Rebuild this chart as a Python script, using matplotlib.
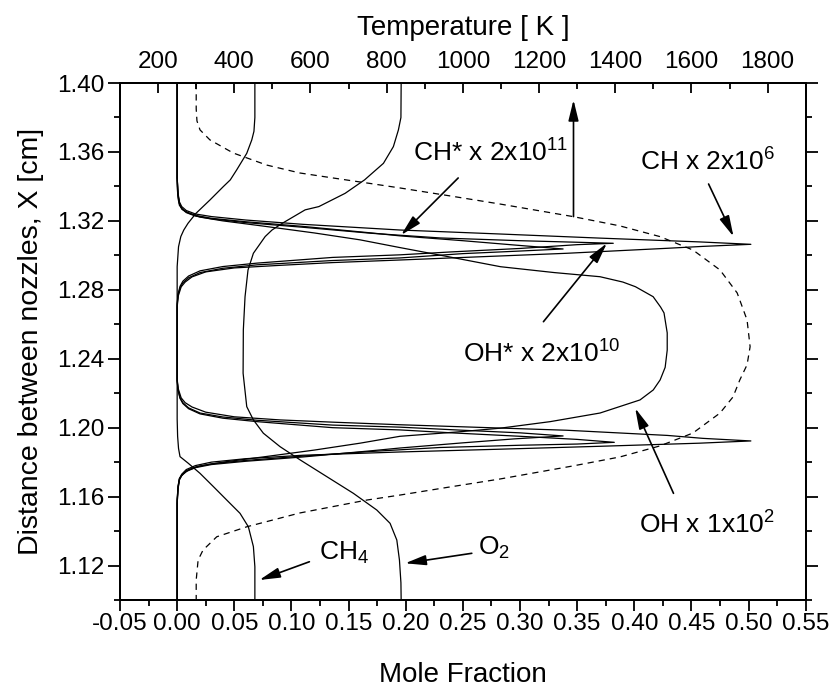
import matplotlib
matplotlib.use("Agg")
import matplotlib.pyplot as plt
from matplotlib.ticker import FixedLocator, FormatStrFormatter

plt.rcParams['font.family'] = ['Liberation Sans', 'DejaVu Sans']
plt.rcParams['mathtext.fontset'] = 'custom'
plt.rcParams['mathtext.rm'] = 'Liberation Sans'
plt.rcParams['mathtext.it'] = 'Liberation Sans:italic'
plt.rcParams['mathtext.bf'] = 'Liberation Sans:bold'
plt.rcParams['axes.unicode_minus'] = False

# ---------------- data ----------------
ch4_y = [1.400, 1.380, 1.372, 1.367, 1.3592, 1.3496, 1.3438, 1.3399, 1.3322, 1.3244, 1.3186,
         1.3147, 1.3109, 1.305, 1.2934, 1.25, 1.2050, 1.1950, 1.1880, 1.1832, 1.1793, 1.1735,
         1.1658, 1.158, 1.1503, 1.1425, 1.131, 1.1193, 1.100]
ch4_x = [0.068, 0.068, 0.0672, 0.0653, 0.0609, 0.0521, 0.0465, 0.0404, 0.0288, 0.0165, 0.0095,
         0.0058, 0.0032, 0.0012, 0.0, 0.0, 0.0, 0.0004, 0.0012, 0.0025, 0.0098, 0.020,
         0.0317, 0.0434, 0.055, 0.0623, 0.0667, 0.068, 0.068]

o2_y = [1.400, 1.380, 1.3728, 1.3631, 1.3534, 1.3438, 1.336, 1.3283, 1.3264, 1.3186, 1.3147,
        1.3109, 1.3012, 1.2915, 1.276, 1.2567, 1.2316, 1.2122, 1.2045, 1.1968, 1.189, 1.1813,
        1.1716, 1.1619, 1.1522, 1.1445, 1.1348, 1.1232, 1.110, 1.100]
o2_x = [0.196, 0.1958, 0.1936, 0.1892, 0.1805, 0.1640, 0.1470, 0.1240, 0.1120, 0.0920, 0.0830,
        0.0770, 0.0667, 0.0620, 0.0594, 0.0579, 0.0577, 0.0609, 0.0667, 0.0754, 0.090, 0.1076,
        0.1309, 0.1542, 0.1747, 0.1863, 0.1922, 0.1945, 0.1958, 0.196]

oh_y = [1.400, 1.340, 1.333, 1.329, 1.3265, 1.3245, 1.3222, 1.3200, 1.3170, 1.3130, 1.3090,
        1.3045, 1.2995, 1.2934, 1.2900, 1.2876, 1.2845, 1.2818, 1.2760, 1.2700, 1.2666, 1.2550,
        1.2450, 1.2350, 1.2277, 1.2219, 1.2161, 1.2085, 1.2035, 1.1997, 1.1975, 1.1950, 1.1910,
        1.1870, 1.1830, 1.1800, 1.1778, 1.1755, 1.1730, 1.1705, 1.1660, 1.158, 1.100]
oh_x = [0.0, 0.0, 0.0008, 0.002, 0.005, 0.010, 0.020, 0.040, 0.075, 0.120, 0.160,
        0.195, 0.235, 0.283, 0.330, 0.370, 0.390, 0.401, 0.4165, 0.423, 0.426, 0.4288,
        0.4288, 0.427, 0.4226, 0.4166, 0.405, 0.370, 0.3264, 0.2826, 0.245, 0.195, 0.160,
        0.120, 0.075, 0.040, 0.020, 0.010, 0.005, 0.002, 0.0008, 0.0, 0.0]

ch_y = [1.400, 1.345, 1.336, 1.331, 1.3283, 1.326, 1.3240, 1.3225, 1.3205, 1.3180, 1.3147, 1.3124,
        1.3100, 1.3078, 1.3064, 1.3052, 1.3041, 1.3012, 1.2973, 1.2958, 1.2942, 1.2927, 1.2904,
        1.2875, 1.2845, 1.2817, 1.2765, 1.270,
        1.2280, 1.2225, 1.2173, 1.2145, 1.2120, 1.2090, 1.2063, 1.2045, 1.2032, 1.2017, 1.1985,
        1.1955, 1.1938, 1.1923, 1.1910, 1.1892, 1.1875, 1.1859, 1.1840, 1.1820, 1.1800, 1.1780,
        1.1757, 1.1730, 1.1705, 1.1660, 1.158, 1.100]
ch_x = [0.0, 0.0, 0.0008, 0.002, 0.004, 0.008, 0.016, 0.030, 0.060, 0.110, 0.195, 0.282,
        0.370, 0.457, 0.502, 0.460, 0.429, 0.341, 0.195, 0.136, 0.090, 0.050, 0.025,
        0.013, 0.007, 0.0035, 0.001, 0.0,
        0.0, 0.001, 0.0035, 0.007, 0.013, 0.025, 0.050, 0.090, 0.136, 0.195, 0.341,
        0.429, 0.460, 0.502, 0.457, 0.370, 0.282, 0.195, 0.110, 0.060, 0.030, 0.016,
        0.008, 0.004, 0.002, 0.0008, 0.0, 0.0]

ohs_y = [1.400, 1.345, 1.335, 1.330, 1.327, 1.3248, 1.3228, 1.3212, 1.3190, 1.3163, 1.3128,
         1.3101, 1.3085, 1.3076, 1.3070, 1.3062, 1.3040, 1.3020, 1.3003, 1.2988, 1.2955, 1.2935,
         1.2910, 1.2880, 1.2850, 1.2820, 1.2775, 1.272,
         1.2270, 1.2215, 1.2170, 1.2140, 1.2110, 1.2080, 1.2055, 1.2035, 1.2000, 1.1987, 1.1970,
         1.1950, 1.1932, 1.1915, 1.1905, 1.1898, 1.1885, 1.1862, 1.1835, 1.1810, 1.1790, 1.1772,
         1.1750, 1.1725, 1.1700, 1.1650, 1.156, 1.100]
ohs_x = [0.0, 0.0, 0.0008, 0.002, 0.004, 0.008, 0.016, 0.030, 0.060, 0.110, 0.170,
         0.230, 0.300, 0.350, 0.3816, 0.350, 0.300, 0.240, 0.195, 0.136, 0.070, 0.040,
         0.020, 0.010, 0.005, 0.0025, 0.0008, 0.0,
         0.0, 0.0008, 0.0025, 0.005, 0.010, 0.020, 0.040, 0.070, 0.136, 0.195, 0.240,
         0.300, 0.350, 0.3825, 0.350, 0.300, 0.230, 0.170, 0.110, 0.060, 0.030, 0.016,
         0.008, 0.004, 0.002, 0.0008, 0.0, 0.0]

chs_y = [1.400, 1.345, 1.335, 1.330, 1.327, 1.3252, 1.3232, 1.3215, 1.3195, 1.3168, 1.3130,
         1.3113, 1.3085, 1.3060, 1.3037, 1.3025, 1.3010, 1.2985, 1.2970, 1.2945, 1.2925, 1.2900,
         1.2870, 1.2840, 1.2810, 1.2770, 1.271,
         1.2275, 1.2220, 1.2175, 1.2145, 1.2115, 1.2085, 1.2062, 1.2043, 1.2015, 1.2003, 1.1985,
         1.1970, 1.1952, 1.1935, 1.1912, 1.1882, 1.1866, 1.1830, 1.1805, 1.1786, 1.1768, 1.1746,
         1.1722, 1.1697, 1.1645, 1.156, 1.100]
chs_x = [0.0, 0.0, 0.0008, 0.002, 0.004, 0.008, 0.016, 0.030, 0.060, 0.110, 0.170,
         0.195, 0.250, 0.295, 0.3377, 0.300, 0.250, 0.195, 0.136, 0.070, 0.040, 0.020,
         0.010, 0.005, 0.0025, 0.0008, 0.0,
         0.0, 0.0008, 0.0025, 0.005, 0.010, 0.020, 0.040, 0.070, 0.136, 0.195, 0.250,
         0.300, 0.3377, 0.295, 0.250, 0.195, 0.170, 0.110, 0.060, 0.030, 0.016, 0.008,
         0.004, 0.002, 0.0008, 0.0, 0.0]

temp_y = [1.400, 1.385, 1.378, 1.3728, 1.367, 1.3594, 1.3524, 1.3478, 1.3449, 1.342, 1.3391,
          1.3345, 1.3298, 1.3225, 1.3171, 1.3109, 1.3031, 1.2915, 1.2782, 1.2625, 1.2470, 1.2365,
          1.2277, 1.2178, 1.2085, 1.1969, 1.1894, 1.1830, 1.1778, 1.1702, 1.1656, 1.1609, 1.1580,
          1.1505, 1.1425, 1.1367, 1.1290, 1.1232, 1.1116, 1.100]
temp_K = [300, 300, 302, 310, 336, 397, 485, 572, 659, 748, 835,
          966, 1097, 1289, 1412, 1517, 1604, 1675, 1720, 1746, 1754, 1746,
          1727, 1709, 1675, 1604, 1517, 1412, 1289, 1097, 966, 835, 748,
          572, 433, 354, 318, 305, 300, 300]

x_ticks = [-0.05, 0.00, 0.05, 0.10, 0.15, 0.20, 0.25, 0.30, 0.35, 0.40, 0.45, 0.50, 0.55]
y_ticks = [1.12, 1.16, 1.20, 1.24, 1.28, 1.32, 1.36, 1.40]
t_ticks = [200, 400, 600, 800, 1000, 1200, 1400, 1600, 1800]

# ---------------- figure ----------------
fig = plt.figure(figsize=(8.34, 6.93), dpi=100)
ax = fig.add_axes([0.1439, 0.1342, 0.8222, 0.7460])

lw = 0.9
for xs, ys in [(ch4_x, ch4_y), (o2_x, o2_y), (oh_x, oh_y), (ch_x, ch_y),
               (ohs_x, ohs_y), (chs_x, chs_y)]:
    ax.plot(xs, ys, color='black', lw=lw)

ax.set_xlim(-0.05, 0.55)
ax.set_ylim(1.10, 1.40)
ax.xaxis.set_major_locator(FixedLocator(x_ticks))
ax.xaxis.set_minor_locator(FixedLocator([t + 0.025 for t in x_ticks[:-1]]))
ax.xaxis.set_major_formatter(FormatStrFormatter('%.2f'))
ax.yaxis.set_major_locator(FixedLocator(y_ticks))
ax.yaxis.set_minor_locator(FixedLocator([1.10] + [t + 0.02 for t in y_ticks[:-1]]))
ax.yaxis.set_major_formatter(FormatStrFormatter('%.2f'))

tick_fs = 17.5
ax.tick_params(axis='x', which='major', direction='out', length=8, width=1.3,
               labelsize=tick_fs, pad=1.5, top=False)
ax.tick_params(axis='x', which='minor', direction='out', length=4.3, width=1.3, top=False)
ax.tick_params(axis='y', which='major', direction='out', length=8.5, width=1.3,
               labelsize=tick_fs, pad=3, right=True)
ax.tick_params(axis='y', which='minor', direction='out', length=4.5, width=1.3, right=True)
for s in ax.spines.values():
    s.set_linewidth(1.4)

ax.set_xlabel('Mole Fraction', fontsize=20, labelpad=19)
ax.set_ylabel('Distance between nozzles, X [cm]', fontsize=20.5, labelpad=9)

# temperature axis on top
ax2 = ax.twiny()
ax2.plot(temp_K, temp_y, color='black', lw=0.9, linestyle=(0, (5, 4)))
ax2.set_xlim(100, 1900)
ax2.xaxis.set_major_locator(FixedLocator(t_ticks))
ax2.xaxis.set_minor_locator(FixedLocator([t + 100 for t in t_ticks[:-1]] + [100, 1900]))
ax2.tick_params(axis='x', which='major', direction='in', length=7, width=1.3,
                labelsize=tick_fs, pad=7)
ax2.tick_params(axis='x', which='minor', direction='in', length=4.3, width=1.3)
for s in ax2.spines.values():
    s.set_linewidth(1.4)
ax2.set_xlabel('Temperature [ K ]', fontsize=20, labelpad=12)

# annotations
fs = 19
ax.text(0.2065, 1.3544, r'CH* x 2x10$^{11}$', fontsize=fs, ha='left', va='baseline')
ax.text(0.405, 1.3492, r'CH x 2x10$^{6}$', fontsize=fs, ha='left', va='baseline')
ax.text(0.2505, 1.2377, r'OH* x 2x10$^{10}$', fontsize=fs, ha='left', va='baseline')
ax.text(0.4037, 1.1383, r'OH x 1x10$^{2}$', fontsize=fs, ha='left', va='baseline')
ax.text(0.1245, 1.1232, r'CH$_4$', fontsize=fs, ha='left', va='baseline')
ax.text(0.2636, 1.1261, r'O$_2$', fontsize=fs, ha='left', va='baseline')

arrows = [((0.2459, 1.3449), (0.196, 1.3118)),
          ((0.465, 1.3414), (0.4868, 1.3109)),
          ((0.3205, 1.2615), (0.376, 1.3070)),
          ((0.3468, 1.3225), (0.3468, 1.3902)),
          ((0.4343, 1.1619), (0.4008, 1.2113)),
          ((0.1157, 1.1222), (0.0719, 1.1116)),
          ((0.2578, 1.1271), (0.1995, 1.1213))]
for start, tip in arrows:
    ax.annotate('', xy=tip, xytext=start,
                arrowprops=dict(arrowstyle='-|>,head_length=0.9,head_width=0.22',
                                color='black', lw=1.2, mutation_scale=14,
                                shrinkA=0, shrinkB=0))

fig.savefig('out.png', dpi=100)
